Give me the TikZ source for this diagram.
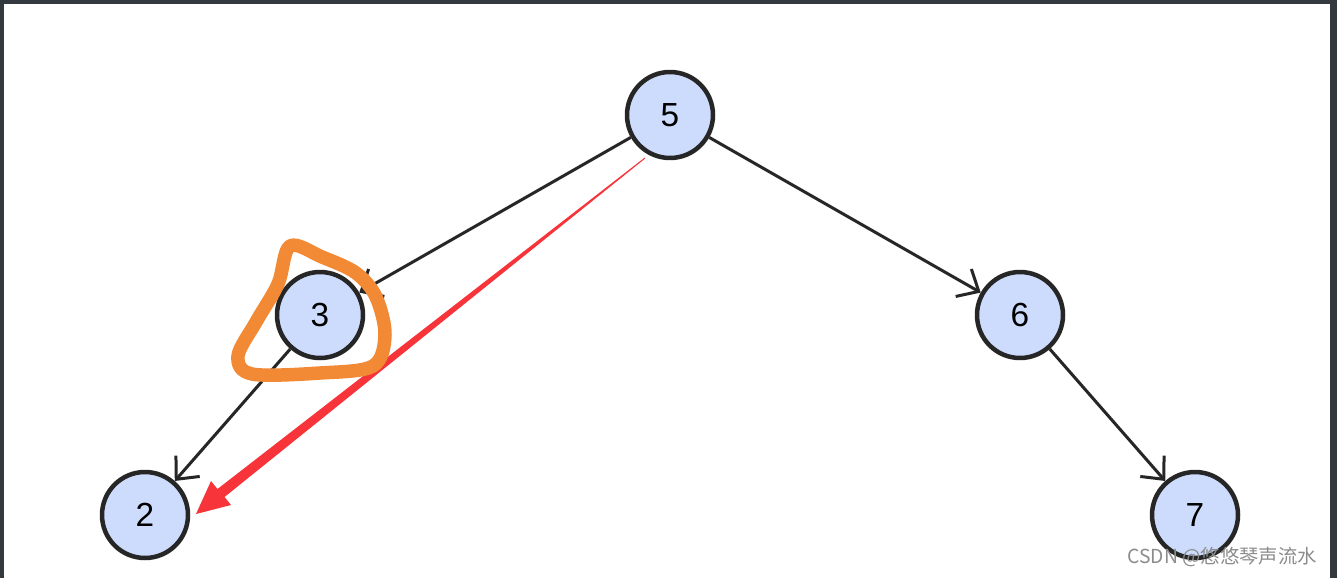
\documentclass[tikz,border=0pt]{standalone}
\usepackage{fontspec}
\setmainfont{Liberation Sans}
\newfontfamily\cjk{Noto Sans CJK SC}
\usetikzlibrary{arrows.meta}
\definecolor{nodefill}{RGB}{205,220,253}
\definecolor{frame}{RGB}{52,57,63}
\definecolor{marker}{RGB}{242,137,52}
\definecolor{hint}{RGB}{246,52,58}
\tikzset{
  treenode/.style={circle, draw=black!85, line width=0.09cm, fill=nodefill,
    minimum size=1.72cm, inner sep=0pt, font=\fontsize{19}{19}\selectfont},
  treeedge/.style={draw=black!85, line width=0.06cm,
    -{Straight Barb[length=10pt,width=18pt,line width=0.06cm]}},
}
\begin{document}
\begin{tikzpicture}[x=0.02cm, y=-0.02cm]
    % frame of the screenshot
    \fill[frame] (0,0) rectangle (1337,578);
    \fill[white] (4,4) rectangle (1330,578);
    \useasboundingbox (0,0) rectangle (1337,578);
    \node[treenode] (N5) at (670,115) {5};
    \node[treenode] (N3) at (320,315) {3};
    \node[treenode] (N6) at (1020,315) {6};
    \node[treenode] (N2) at (145,515) {2};
    \node[treenode] (N7) at (1195,515) {7};
    \path (N5) edge [treeedge] (N3);
    \path (N5) edge [treeedge] (N6);
    \path (N3) edge [treeedge] (N2);
    \path (N6) edge [treeedge] (N7);
    % hand drawn hints
    \fill[hint] (645.3,158.4) -- (224.5,497) -- (231,505) -- (196,514)
      -- (211,481) -- (217.5,489) -- (644.7,157.6) -- cycle;
    \draw[marker, line width=0.27cm, line join=round, line cap=round]
      plot[smooth cycle, tension=0.55] coordinates {(290,246) (322,257) (356,273)
      (376,297) (385,335) (373,366) (320,373) (252,374) (238,356) (256,322) (278,284)};
    \node[text=black!45, font=\cjk\fontsize{11}{12}\selectfont, anchor=east] (mark) at (1323,557) {CSDN @悠悠琴声流水};
\end{tikzpicture}
\end{document}
